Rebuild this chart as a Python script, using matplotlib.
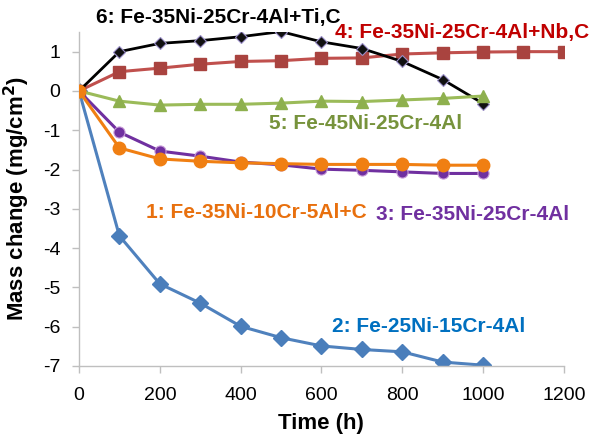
import numpy as np
import matplotlib
matplotlib.use("Agg")
import matplotlib.pyplot as plt

plt.rcParams['font.family'] = ['Liberation Sans', 'DejaVu Sans']
plt.rcParams['axes.unicode_minus'] = False

# time points (h)
t = [0, 100, 200, 300, 400, 500, 600, 700, 800, 900, 1000]
t_nb = [0, 100, 200, 300, 400, 500, 600, 700, 800, 900, 1000, 1100, 1200]

# mass change (mg/cm2) for each alloy
alloy1 = [0, -1.45, -1.73, -1.79, -1.83, -1.85, -1.87, -1.87, -1.87, -1.89, -1.89]
alloy2 = [0, -3.69, -4.91, -5.40, -5.99, -6.28, -6.49, -6.58, -6.64, -6.90, -6.98]
alloy3 = [0, -1.05, -1.53, -1.66, -1.81, -1.88, -1.99, -2.02, -2.06, -2.10, -2.10]
alloy4 = [0, 0.49, 0.58, 0.68, 0.75, 0.77, 0.83, 0.84, 0.94, 0.97, 0.99, 1.0, 1.0]
alloy5 = [0, -0.26, -0.36, -0.34, -0.34, -0.31, -0.26, -0.27, -0.23, -0.19, -0.13]
alloy6 = [0, 1.0, 1.21, 1.28, 1.38, 1.51, 1.25, 1.08, 0.75, 0.29, -0.32]

labels = ["1: Fe-35Ni-10Cr-5Al+C", "2: Fe-25Ni-15Cr-4Al", "3: Fe-35Ni-25Cr-4Al",
          "4: Fe-35Ni-25Cr-4Al+Nb,C", "5: Fe-45Ni-25Cr-4Al", "6: Fe-35Ni-25Cr-4Al+Ti,C"]
label_pos = [(438, -3.1), (866, -6.0), (975, -3.15), (948, 1.5), (708, -0.84), (346, 1.88)]
label_colors = ['#E8700E', '#0070C0', '#7030A0', '#C00000', '#77933C', '#000000']

fig = plt.figure(figsize=(6.05, 4.36), dpi=100)
ax = fig.add_axes([0.1306, 0.1606, 0.8014, 0.766])

ax.plot(t, alloy2, color='#4F81BD', lw=2.2, marker='D', ms=8, mfc='#4A7EBB', mec='#4A7EBB', zorder=2)
ax.plot(t_nb, alloy4, color='#C0504D', lw=2.2, marker='s', ms=8, mfc='#A9433F', mec='#A9433F', zorder=3)
ax.plot(t, alloy6, color='#000000', lw=2.0, marker='D', ms=6, mfc='#111111', mec='#9A8FC8', mew=0.8, zorder=4)
ax.plot(t, alloy5, color='#9BBB59', lw=2.2, marker='^', ms=8, mfc='#8EB04E', mec='#8EB04E', zorder=5)
ax.plot(t, alloy3, color='#7030A0', lw=2.2, marker='o', ms=8, mfc='#7030A0', mec='#C89BD8', mew=0.8, zorder=6)
ax.plot(t, alloy1, color='#F07F12', lw=2.2, marker='o', ms=9, mfc='#F07F12', mec='#F07F12', zorder=7)

for lab, (x, y), c in zip(labels, label_pos, label_colors):
    ax.text(x, y, lab, color=c, fontsize=15, fontweight='bold', ha='center', va='center',
            clip_on=False, zorder=10)

ax.set_xlim(0, 1200)
ax.set_ylim(-7, 1.5)
ax.set_xticks(np.arange(0, 1201, 200))
ax.set_yticks(np.arange(-7, 2, 1))
ax.tick_params(labelsize=14, colors='#BFBFBF', labelcolor='black', length=5, width=1)
ax.tick_params(axis='x', pad=10)
ax.tick_params(axis='y', pad=8.5)
for side in ['top', 'right']:
    ax.spines[side].set_visible(False)
for side in ['left', 'bottom']:
    ax.spines[side].set_color('#BFBFBF')
    ax.spines[side].set_linewidth(1)

ax.set_xlabel('Time (h)', fontsize=16, fontweight='bold', labelpad=6.5)
ax.set_ylabel('Mass change (mg/cm$^\\mathbf{2}$)', fontsize=16, fontweight='bold', labelpad=8)

fig.savefig('out.png', dpi=100)
